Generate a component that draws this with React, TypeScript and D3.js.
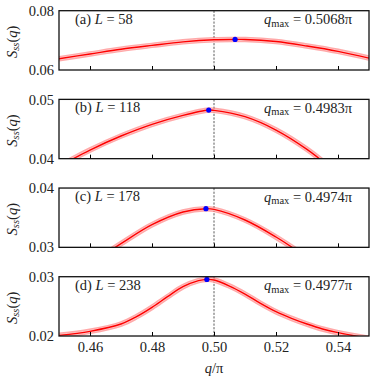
// Static structure factor S_ss(q) near q = pi/2 for four system sizes
import React, { useEffect, useRef } from 'react'
import * as d3 from 'd3'

// panel labels and system sizes
const panelTags = ['(a)', '(b)', '(c)', '(d)']
const sizes = [58, 118, 178, 238]
const qMax = [0.5068, 0.4983, 0.4974, 0.4977]
const qMaxLabels = ['0.5068', '0.4983', '0.4974', '0.4977']

// y ranges of each panel
const yDomains = [
  [0.06, 0.08],
  [0.04, 0.05],
  [0.03, 0.04],
  [0.02, 0.03],
]

const xTicks = [0.46, 0.48, 0.5, 0.52, 0.54]

// curves (q/pi, S_ss)
const qA = [0.45, 0.46, 0.47, 0.48, 0.49, 0.5, 0.5068, 0.51, 0.52, 0.53, 0.54, 0.55]
const sA = [0.0638, 0.0654, 0.067, 0.0683, 0.0695, 0.0702, 0.0703, 0.0703, 0.0696, 0.0681, 0.0663, 0.064]

const qB = [0.45, 0.46, 0.47, 0.48, 0.49, 0.4983, 0.5, 0.51, 0.52, 0.53, 0.54, 0.55]
const sB = [0.0387, 0.04146, 0.04382, 0.04579, 0.0473, 0.0482, 0.04815, 0.04708, 0.04483, 0.04157, 0.0375, 0.0335]

const qC = [0.45, 0.46, 0.47, 0.48, 0.49, 0.4974, 0.5, 0.51, 0.52, 0.53, 0.54, 0.55]
const sC = [0.0238, 0.0272, 0.03062, 0.03382, 0.03596, 0.03652, 0.0364, 0.03461, 0.03174, 0.0283, 0.0245, 0.021]

const qD = [0.45, 0.46, 0.47, 0.475, 0.48, 0.485, 0.49, 0.495, 0.4977, 0.5, 0.505, 0.51, 0.515, 0.52, 0.525, 0.53, 0.535, 0.54, 0.55]
const sD = [0.02011, 0.02079, 0.02202, 0.02326, 0.02483, 0.02663, 0.02831, 0.02933, 0.02955, 0.02944, 0.02843, 0.02708, 0.0255, 0.0241, 0.02298, 0.02202, 0.02118, 0.02056, 0.0196]

const curves = [
  [qA, sA],
  [qB, sB],
  [qC, sC],
  [qD, sD],
]

const App = () => {
  const ref = useRef(null)

  useEffect(() => {
    const W = 374,
      H = 382
    const left = 59,
      right = 369
    const top0 = 10.7,
      step = 88.67,
      ph = 59.3
    const font = "'Liberation Serif'"
    const fs = '14.5px'

    const root = d3.select(ref.current)
    root.selectAll('*').remove()
    const svg = root
      .append('svg')
      .attr('width', W)
      .attr('height', H)
      .style('position', 'absolute')
      .style('left', 0)
      .style('top', 0)
      .style('background', 'white')

    const x = d3.scaleLinear().domain([0.45, 0.55]).range([left, right])

    curves.forEach(([qs, ss], i) => {
      const top = top0 + i * step
      const y = d3
        .scaleLinear()
        .domain(yDomains[i])
        .range([top + ph, top])

      const g = svg.append('g')

      // clip region for the curve
      svg
        .append('clipPath')
        .attr('id', 'clip' + i)
        .append('rect')
        .attr('x', left)
        .attr('y', top)
        .attr('width', right - left)
        .attr('height', ph)

      const pts = qs.map((q, k) => [q, ss[k]])
      const line = d3
        .line()
        .x((d) => x(d[0]))
        .y((d) => y(d[1]))
        .curve(d3.curveCatmullRom.alpha(0.5))

      const cg = g.append('g').attr('clip-path', 'url(#clip' + i + ')')

      // dashed line at q = pi/2
      cg.append('line')
        .attr('x1', x(0.5))
        .attr('x2', x(0.5))
        .attr('y1', top)
        .attr('y2', top + ph)
        .attr('stroke', '#333')
        .attr('stroke-width', 0.8)
        .attr('stroke-dasharray', '2.2,1.4')

      // open-marker halo
      cg.append('path')
        .datum(pts)
        .attr('d', line)
        .attr('fill', 'none')
        .attr('stroke', '#ff7070')
        .attr('stroke-opacity', 0.6)
        .attr('stroke-width', 5.5)
      cg.append('path')
        .datum(pts)
        .attr('d', line)
        .attr('fill', 'none')
        .attr('stroke', '#ffc8c8')
        .attr('stroke-width', 2.8)
      cg.append('path')
        .datum(pts)
        .attr('d', line)
        .attr('fill', 'none')
        .attr('stroke', '#ff0000')
        .attr('stroke-width', 1.4)

      // maximum marker
      const peak = pts.find((d) => d[0] === qMax[i])
      cg.append('circle')
        .attr('cx', x(peak[0]))
        .attr('cy', y(peak[1]))
        .attr('r', 2.6)
        .attr('fill', '#0000ff')

      // x axis (ticks inward)
      const xa = g
        .append('g')
        .attr('transform', 'translate(0,' + (top + ph) + ')')
        .call(
          d3
            .axisBottom(x)
            .tickValues(xTicks)
            .tickSizeInner(-4)
            .tickSizeOuter(0)
            .tickPadding(6)
            .tickFormat(d3.format('.2f'))
        )
      xa.select('.domain').remove()
      xa.selectAll('line').attr('stroke', '#000').attr('stroke-width', 1)
      xa.selectAll('text')
        .style('font-family', font)
        .style('font-size', fs)
        .attr('fill', '#222')
        .style('display', i === 3 ? null : 'none')

      // y axis labels at both ends only
      const ya = g
        .append('g')
        .attr('transform', 'translate(' + left + ',0)')
        .call(
          d3
            .axisLeft(y)
            .tickValues(yDomains[i])
            .tickSize(0)
            .tickPadding(5)
            .tickFormat(d3.format('.2f'))
        )
      ya.select('.domain').remove()
      ya.selectAll('text')
        .style('font-family', font)
        .style('font-size', fs)
        .attr('fill', '#222')

      // frame
      g.append('rect')
        .attr('x', left)
        .attr('y', top)
        .attr('width', right - left)
        .attr('height', ph)
        .attr('fill', 'none')
        .attr('stroke', '#111')
        .attr('stroke-width', 1.3)

      // panel tag
      const t = g
        .append('text')
        .attr('x', 75)
        .attr('y', top + 13)
        .style('font-family', font)
        .style('font-size', fs)
        .attr('fill', '#222')
      t.append('tspan').text(panelTags[i] + ' ')
      t.append('tspan').style('font-style', 'italic').text('L')
      t.append('tspan').text(' = ' + sizes[i])

      // q_max
      const m = g
        .append('text')
        .attr('x', 352)
        .attr('y', top + 13.5)
        .attr('text-anchor', 'end')
        .style('font-family', font)
        .style('font-size', fs)
        .attr('fill', '#222')
      m.append('tspan').style('font-style', 'italic').text('q')
      m.append('tspan').attr('dy', 2.5).style('font-size', '10.5px').text('max')
      m.append('tspan').attr('dy', -2.5).text(' = ' + qMaxLabels[i] + 'π')

      // y label
      const yl = g
        .append('text')
        .attr('transform', 'translate(16.5,' + (top + ph / 2 + 1.5) + ') rotate(-90)')
        .attr('text-anchor', 'middle')
        .style('font-family', font)
        .style('font-size', fs)
        .attr('fill', '#222')
      yl.append('tspan').style('font-style', 'italic').text('S')
      yl.append('tspan').attr('dy', 2.5).style('font-style', 'italic').style('font-size', '10.5px').text('ss')
      yl.append('tspan').attr('dy', -2.5).text('(')
      yl.append('tspan').style('font-style', 'italic').text('q')
      yl.append('tspan').text(')')
    })

    // x label
    const xl = svg
      .append('text')
      .attr('x', x(0.5))
      .attr('y', 373)
      .attr('text-anchor', 'middle')
      .style('font-family', font)
      .style('font-size', fs)
      .attr('fill', '#222')
    xl.append('tspan').style('font-style', 'italic').text('q')
    xl.append('tspan').text('/π')
  }, [])

  return <div ref={ref}></div>
}

export default App
